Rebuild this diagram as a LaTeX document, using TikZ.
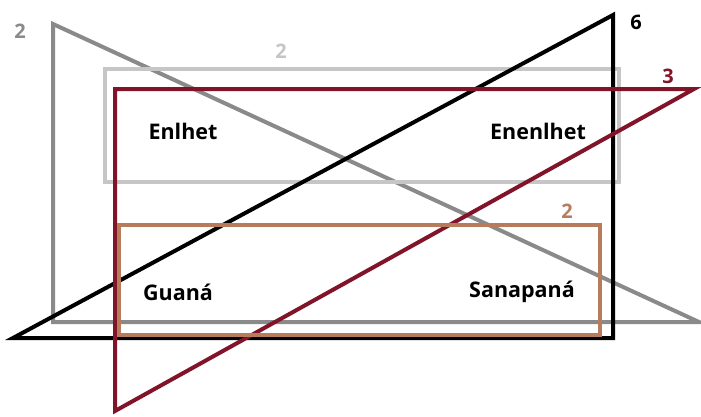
\documentclass[tikz,border=0pt]{standalone}
\usepackage{fontspec}
\setmainfont{Open Sans}
\definecolor{midgray}{HTML}{8A8A8A}
\definecolor{palegray}{HTML}{C6C6C6}
\definecolor{wine}{HTML}{82142A}
\definecolor{tan}{HTML}{B67C5C}
\begin{document}
\begin{tikzpicture}[x=1pt,y=-1pt,
  shape line/.style={line width=4pt,line join=miter},
  lang/.style={font=\bfseries\fontsize{21.5}{24}\selectfont,text=black,inner sep=0pt},
  count/.style={font=\bfseries\fontsize{20}{22}\selectfont,inner sep=0pt}]
\useasboundingbox (0,0) rectangle (701,416);
\fill[white] (0,0) rectangle (701,416);
% gray right triangle
\coordinate (g1) at (53,24);
\coordinate (g2) at (53,322);
\coordinate (g3) at (699,322);
\draw[shape line,midgray] (g1) -- (g2) -- (g3) -- cycle;
% pale gray rectangle
\draw[shape line,palegray] (105,69) rectangle (619,182);
% black right triangle
\coordinate (k1) at (13,338);
\coordinate (k2) at (613,15);
\coordinate (k3) at (613,338);
\draw[shape line,black] (k1) -- (k2) -- (k3) -- cycle;
% wine right triangle
\coordinate (r1) at (115,89);
\coordinate (r2) at (694,89);
\coordinate (r3) at (115,411);
\draw[shape line,wine] (r1) -- (r2) -- (r3) -- cycle;
% tan rectangle
\draw[shape line,tan] (119,225) rectangle (600,335);
% languages
\node[lang] (enlhet) at (183,131) {Enlhet};
\node[lang] (enenlhet) at (538,131) {Enenlhet};
\node[lang] (guana) at (178,292) {Guaná};
\node[lang] (sanapana) at (522,292) {Sanapaná};
% counts
\node[count,text=midgray] (cg) at (20,31) {2};
\node[count,text=palegray] (cp) at (281,51) {2};
\node[count,text=black] (ck) at (636,22) {6};
\node[count,text=wine] (cw) at (668,76) {3};
\node[count,text=tan] (ct) at (567,211) {2};
\end{tikzpicture}
\end{document}
